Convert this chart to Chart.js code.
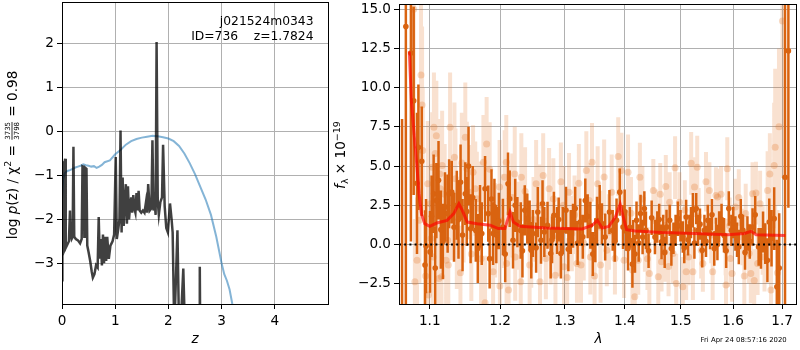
<!DOCTYPE html>
<html><head><meta charset="utf-8">
<script src="https://cdn.jsdelivr.net/npm/chart.js@4.4.0/dist/chart.umd.min.js"></script>
<style>html,body{margin:0;padding:0;background:#fff;width:800px;height:350px;overflow:hidden}canvas{position:absolute;top:0}</style>
</head><body>
<canvas id="c1" width="340" height="350" style="left:0px"></canvas>
<canvas id="c2" width="470" height="350" style="left:330px"></canvas>
<script>
const FONT = "'DejaVu Sans', sans-serif";
Chart.defaults.font.family = FONT;
Chart.defaults.font.size = 13.6;
Chart.defaults.color = '#000';

// ---------- left panel: log p(z) ----------
const zTicks = [0, 1, 2, 3, 4];
const logTicks = [-3, -2, -1, 0, 1, 2];
const zGrid = [0.000,0.005,0.010,0.020,0.025,0.030,0.040,0.050,0.060,0.070,0.090,0.110,0.130,0.150,0.160,0.180,0.200,0.215,0.230,0.260,0.300,0.340,0.370,0.385,0.410,0.420,0.430,0.460,0.475,0.500,0.530,0.560,0.580,0.610,0.640,0.670,0.690,0.710,0.730,0.750,0.770,0.790,0.810,0.830,0.850,0.880,0.910,0.950,0.980,1.010,1.030,1.060,1.080,1.100,1.120,1.140,1.160,1.180,1.200,1.220,1.240,1.260,1.280,1.300,1.320,1.340,1.360,1.380,1.400,1.420,1.440,1.460,1.490,1.520,1.550,1.580,1.600,1.620,1.650,1.680,1.700,1.720,1.740,1.760,1.778,1.800,1.820,1.850,1.880,1.900,1.930,1.960,1.990,2.030,2.060,2.080,2.110,2.130,2.170,2.200,2.240,2.280,2.310,2.400,2.580,2.590,2.600,2.700];
const logPz = [-3.39,-2.9,-0.70,-0.72,-0.68,-2.75,-2.7,-0.70,-0.62,-2.65,-2.60,-2.55,-2.50,-1.80,-2.35,-2.45,-2.40,-0.35,-2.40,-2.45,-2.48,-2.55,-2.45,-0.80,-0.82,-2.4,-0.82,-0.85,-2.6,-2.75,-2.95,-3.20,-3.33,-3.25,-3.05,-3.1,-1.95,-2.9,-2.45,-3.05,-2.35,-3.0,-2.4,-2.95,-2.4,-2.9,-2.6,-2.5,-2.35,-0.58,-2.45,-2.2,-2.0,0.02,-2.3,-1.05,-2.15,-1.6,-1.2,-2.1,-1.25,-2.0,-1.7,-1.5,-1.85,-1.45,-1.75,-1.85,-1.4,-1.8,-1.35,-1.8,-1.85,-1.8,-1.85,-1.6,-1.85,-1.2,-1.8,-1.75,-0.2,-1.8,-1.6,-1.9,2.04,-1.6,-1.9,-1.6,-1.5,-0.3,-1.7,-2.2,-2.3,-1.64,-2.0,-2.3,-4.5,-3.8,-2.25,-4.5,-4.2,-3.12,-4.5,-5,-5,-3.08,-5,-5];
const zSmooth = [0,0.02,0.05,0.1,0.15,0.2,0.25,0.3,0.35,0.4,0.45,0.5,0.55,0.6,0.65,0.7,0.75,0.8,0.9,1.0,1.1,1.2,1.3,1.4,1.5,1.6,1.7,1.8,1.9,2.0,2.1,2.2,2.3,2.4,2.5,2.6,2.7,2.8,2.9,3.0,3.05,3.1,3.15,3.2,3.25];
const logSmooth = [-1.56,-1.1,-0.95,-0.9,-0.88,-0.85,-0.82,-0.8,-0.78,-0.75,-0.77,-0.78,-0.8,-0.79,-0.83,-0.8,-0.76,-0.7,-0.66,-0.52,-0.42,-0.3,-0.22,-0.17,-0.14,-0.12,-0.1,-0.11,-0.13,-0.16,-0.22,-0.33,-0.5,-0.72,-0.97,-1.26,-1.55,-1.9,-2.4,-3.0,-3.25,-3.4,-3.6,-3.92,-4.2];

// ---------- right panel: spectrum ----------
const lamTicks = [1.1, 1.2, 1.3, 1.4, 1.5, 1.6, 1.7];
const fTicks = [-2.5, 0, 2.5, 5, 7.5, 10, 12.5, 15];
const lamDark = [1.063,1.068,1.0747,1.0784,1.0828,1.0847,1.0892,1.0936,1.095,1.1004,1.1053,1.109,1.1152,1.1209,1.1246,1.1266,1.1303,1.1374,1.1398,1.1427,1.1494,1.154,1.1644,1.1673,1.173,1.1778,1.1825,1.1872,1.1896,1.1943,1.2041,1.2117,1.2142,1.2192,1.2258,1.2309,1.237,1.2409,1.247,1.2495,1.2571,1.2621,1.2673,1.2723,1.2773,1.2824,1.2874,1.29,1.2935,1.3017,1.3094,1.3166,1.3248,1.3331,1.3414,1.3497,1.3525,1.3608,1.3662,1.3735,1.379,1.3856,1.3911,1.3967,1.4023,1.4054,1.413,1.4143,1.4202,1.4273,1.4309,1.4368,1.447,1.4529,1.4571,1.4648,1.4679,1.4738,1.4796,1.4827,1.4904,1.4946,1.5038,1.51,1.5162,1.5226,1.5289,1.5321,1.5402,1.5445,1.5509,1.5553,1.5634,1.5666,1.5728,1.5823,1.5917,1.5968,1.6047,1.6115,1.6198,1.6288,1.6391,1.6514,1.6562,1.665,1.6733,1.6835,1.6891,1.7062,1.7133,
  1.1025,1.1075,1.112,1.118,1.1335,1.1455,1.1515,1.157,1.160,1.1705,1.1845,1.1915,1.198,1.2075,1.2225,1.2335,1.2445,1.2545,1.2645,1.2795,1.2965,1.3055,1.313,1.3205,1.329,1.337,1.3455,1.357,1.3825,1.3995,1.4085,1.4175,1.424,1.434,1.4415,1.4605,1.4705,1.4865,1.4995,1.5065,1.5135,1.519,1.5255,1.536,1.5475,1.559,1.5695,1.5775,1.5865,1.6005,1.608,1.6155,1.624,1.6335,1.6445,1.6605,1.6695,1.678,1.694];
const fDark = [-4.5,13.9,12.2,9.16,3.9,6.2,5.3,-1.31,-0.1,-0.47,3.24,2.8,0.95,2.4,1.97,3.24,3.34,2.5,1.6,3.97,3.24,5.0,0.9,-0.25,0.7,3.55,1.97,2.9,0.7,0.6,1.12,3.87,2.92,0.27,1.43,0.9,2.18,1.65,-0.36,0.7,2.07,0.27,0.8,1.23,-0.57,1.86,0.9,1.59,-0.57,2.18,0.8,2.29,1.43,2.81,1.23,0.27,1.54,1.33,0.48,2.07,0.9,1.54,3.34,1.12,0.9,-0.25,-1.25,0.27,1.54,1.97,0.48,0.9,1.71,0.48,1.12,0.17,0.9,1.12,1.54,-0.25,0.9,1.65,0.48,1.75,0.9,2.18,2.29,0.9,-0.36,0.9,1.54,0.7,-0.25,0.7,1.12,0.59,2.29,0.9,0.7,-0.15,0.9,0.7,1.12,-0.15,-0.25,0.06,1.43,1.65,-2.69,4.29,12.34,
  1.8,-1.5,4.1,0.2,1.1,0.6,2.1,1.0,3.0,1.8,-0.9,2.4,1.5,-0.6,2.5,-0.4,1.2,-0.2,2.6,0.3,0.9,-0.3,1.2,0.1,0.5,1.8,-0.6,2.4,0.2,2.1,1.1,-0.6,0.1,2.3,-0.4,1.6,-0.5,0.4,1.2,-0.2,0.3,1.4,0.1,1.3,0.2,1.9,0.0,1.6,-0.4,1.4,0.3,1.8,-0.5,0.2,1.9,0.8,-1.0,0.4,-1.5];
const eDark = [12.5,18,12,6,4.5,4,3.5,3.5,3,2.6,2.5,2.4,2.5,2.2,2.5,2.2,2.0,2.2,2.5,2.4,2.0,2.5,2.0,2.2,2.0,2.1,1.8,1.9,2.0,1.8,1.8,2.0,1.8,1.8,1.6,1.8,1.6,1.6,1.8,1.5,1.6,1.5,1.6,1.5,1.6,1.5,1.5,1.4,1.6,1.5,1.4,1.4,1.5,1.4,1.5,1.4,1.5,1.3,1.5,1.4,1.3,1.4,1.5,1.4,1.3,1.4,1.5,1.3,1.2,1.2,1.1,1.2,1.1,1.1,1.0,1.1,1.0,1.1,1.0,1.1,1.0,1.1,1.0,1.1,1.0,1.1,1.0,1.0,1.1,1.0,1.0,1.0,1.1,1.0,1.0,1.1,1.1,1.0,1.1,1.1,1.0,1.1,1.2,1.2,1.3,1.3,1.5,2.0,3.0,11,10,
  2.6,2.6,2.5,2.4,2.2,2.3,2.2,2.2,2.0,2.0,1.9,1.8,1.8,1.8,1.7,1.7,1.6,1.6,1.5,1.5,1.5,1.4,1.4,1.4,1.4,1.4,1.4,1.4,1.3,1.4,1.3,1.2,1.2,1.1,1.1,1.0,1.0,1.0,1.0,1.0,1.0,1.0,1.0,1.0,1.0,1.0,1.0,1.0,1.1,1.0,1.1,1.1,1.1,1.1,1.2,1.3,1.4,1.8,3.5];
const lamLight = [1.0784,1.08,1.0828,1.086,1.0882,1.0896,1.0973,1.0982,1.1018,1.1033,1.1045,1.1057,1.109,1.1124,1.1138,1.1145,1.1161,1.117,1.1246,1.1255,1.128,1.1341,1.1374,1.1469,1.1494,1.1516,1.155,1.1636,1.1659,1.1697,1.1754,1.1778,1.1801,1.1896,1.1991,1.1996,1.2067,1.2091,1.2095,1.2142,1.2218,1.2225,1.2309,1.2318,1.2445,1.247,1.2545,1.2597,1.2605,1.2697,1.2748,1.2773,1.2848,1.29,1.2976,1.2985,1.3066,1.3111,1.3194,1.326,1.3348,1.3414,1.3442,1.3536,1.3579,1.3585,1.369,1.3773,1.3828,1.3884,1.3939,1.4054,1.413,1.4171,1.4232,1.4261,1.435,1.4429,1.45,1.4589,1.4648,1.4707,1.4725,1.4796,1.4857,1.4916,1.4975,1.5038,1.51,1.5194,1.5226,1.5257,1.5308,1.5383,1.5415,1.554,1.5603,1.5666,1.5698,1.5855,1.5862,1.5887,1.5949,1.5981,1.6047,1.6185,1.6253,1.6321,1.6356,1.6391,1.646,1.6494,1.6597,1.6699,1.6768,1.6835,1.6856,1.7008,
  1.0905,1.0945,1.1005,1.1075,1.1205,1.1225,1.131,1.1355,1.1425,1.1445,1.158,1.1605,1.172,1.1845,1.1925,1.2025,1.2125,1.218,1.2275,1.2375,1.2505,1.2655,1.2815,1.2935,1.3035,1.3155,1.3225,1.3305,1.3395,1.3485,1.3645,1.3725,1.3985,1.4105,1.4305,1.4395,1.4545,1.4625,1.4775,1.4895,1.5075,1.5145,1.5335,1.5475,1.5575,1.5765,1.5935,1.6115,1.6225,1.6425,1.6545,1.6635,1.6745,1.6905,1.6935];
const fLight = [15.0,-2.37,-1.0,1.54,10.8,8.9,3.87,-3.22,0.38,4.93,-0.79,7.47,6.94,-2.16,4.5,3.56,-2.06,5.03,0.27,-1.31,7.47,5.56,0.17,1.86,6.83,4.83,3.34,3.56,2.92,2.29,5.25,-3.71,6.41,-1.74,3.66,-2.65,4.29,5.25,-1.21,1.97,4.5,-0.79,-2.37,4.29,-1.31,-0.15,3.87,2.5,-2.37,-0.89,3.56,0.06,-1.95,0.48,2.5,-1.42,3.34,0.7,-1.21,-1.31,4.72,-0.79,5.25,3.87,1.12,-1.31,-0.36,3.34,-0.89,5.61,4.72,4.61,-1.63,-3.33,-1.0,4.29,0.27,-1.84,3.45,-2.06,-1.1,-0.47,3.7,2.7,-0.57,-2.48,2.7,-2.69,-1.74,5.18,-1.74,3.66,4.93,-0.36,-1.21,3.45,-1.74,3.13,3.03,-0.15,-2.58,4.83,-0.89,-1.84,2.39,0.48,1.97,-0.57,-1.84,3.24,3.28,-1.21,0.27,3.45,-2.9,5.03,6.2,14.24,
  6.0,-2.0,2.6,5.8,3.2,-1.0,2.0,4.2,-1.8,5.2,-0.6,4.6,-0.9,4.8,0.9,1.5,-2.9,3.0,1.2,3.4,1.6,4.4,2.9,4.0,-2.1,1.9,3.9,0.1,2.8,-2.0,4.3,0.8,-1.0,2.0,2.9,-0.9,1.5,3.2,-1.4,4.9,2.2,-0.8,1.8,4.0,0.6,3.2,1.2,3.0,-2.0,-2.3,2.6,-0.8,4.5,-1.8,7.5];
const eLight = [8,4,4,4,5,5,4,3.5,3.5,3.5,3.5,3.5,3.5,3,3.5,3,3,3.5,3,3,3.5,3.5,3,3,3.5,3,3,3,3,3,3,3,3,3,3,3,3,3,3,2.8,3,2.8,2.8,2.8,2.8,2.6,2.8,2.6,2.8,2.6,2.6,2.6,2.6,2.5,2.5,2.5,2.5,2.4,2.5,2.4,2.5,2.4,2.5,2.4,2.3,2.4,2.3,2.4,2.3,2.5,2.4,2.4,2.3,2.3,2.2,2.2,2.0,2.0,2.0,2.0,1.9,1.9,2.0,1.9,1.9,1.9,1.9,1.9,1.8,2.0,1.8,1.9,2.0,1.8,1.8,1.8,1.8,1.8,1.8,1.8,1.8,2.0,1.8,1.8,1.8,1.8,1.9,1.9,1.9,2.0,2.0,2.0,2.2,2.5,2.8,4,5,10,
  4,4,3.5,3.5,3.2,3,3,3.2,3,3.2,3,3,3,3,3,3,2.8,2.8,2.8,2.8,2.7,2.7,2.6,2.5,2.5,2.5,2.5,2.4,2.4,2.4,2.4,2.4,2.4,2.3,2.1,2.0,2.0,2.0,1.9,2.0,1.9,1.8,1.8,1.9,1.8,1.8,1.8,1.8,1.9,2.0,2.1,2.2,2.6,4,5];
const lamModel = [1.0726,1.0753,1.0797,1.0828,1.0855,1.0888,1.0932,1.1,1.1095,1.1238,1.1331,1.1403,1.1451,1.1522,1.1664,1.1853,1.1972,1.2071,1.2147,1.2197,1.2298,1.2703,1.3281,1.3446,1.353,1.3613,1.3724,1.3835,1.3918,1.3972,1.4029,1.4179,1.4654,1.5264,1.5894,1.6226,1.6362,1.6464,1.7069];
const fModel = [12.3,9.16,6.62,4.93,3.24,1.97,1.33,1.16,1.37,1.54,1.97,2.6,2.18,1.43,1.33,1.23,1.02,1.02,2.07,1.43,1.16,1.05,0.99,1.23,1.54,1.05,1.16,1.75,2.56,1.75,0.95,0.86,0.76,0.7,0.63,0.7,0.84,0.63,0.57];
const lamRange = [1.059, 1.7295];

// ---------- helpers ----------
function fmtInt(v){ return v < 0 ? '\u2212' + Math.abs(v) : String(v); }
function fmt1(v){ const s = Math.abs(v).toFixed(1); return v < 0 ? '\u2212' + s : s; }
function pts(xs, ys){ return xs.map((x, i) => ({x: x, y: ys[i]})); }
function errSegs(xs, ys, es){
  const out = [];
  xs.forEach((x, i) => { out.push({x: x, y: ys[i] - es[i]}, {x: x, y: ys[i] + es[i]}, {x: x, y: null}); });
  return out;
}
function setFont(ctx, size, italic){ ctx.font = (italic ? 'italic ' : '') + size + 'px ' + FONT; }
function measureRun(ctx, r){
  if (r.frac){ setFont(ctx, r.size, false); return Math.max(ctx.measureText(r.frac[0]).width, ctx.measureText(r.frac[1]).width) + 2; }
  setFont(ctx, r.size, r.italic); return ctx.measureText(r.t).width;
}
function drawRich(ctx, runs, x, y, rot){
  ctx.save(); ctx.translate(x, y); if (rot) ctx.rotate(-Math.PI / 2);
  let W = 0; runs.forEach(r => { r.w = measureRun(ctx, r); W += r.w; });
  let cx = -W / 2;
  ctx.fillStyle = '#000'; ctx.textBaseline = 'alphabetic';
  for (const r of runs){
    if (r.frac){
      setFont(ctx, r.size, false); ctx.textAlign = 'center';
      ctx.fillText(r.frac[0], cx + r.w / 2, -6.3);
      ctx.fillText(r.frac[1], cx + r.w / 2, 2.7);
      ctx.fillRect(cx + 1, -4.9, r.w - 2, 0.8);
    } else {
      setFont(ctx, r.size, r.italic); ctx.textAlign = 'left';
      ctx.fillText(r.t, cx, r.dy || 0);
    }
    cx += r.w;
  }
  ctx.restore();
}
const framePlugin = { id: 'frame', afterDraw(chart){
  const {ctx, chartArea: a} = chart;
  ctx.save(); ctx.strokeStyle = '#000'; ctx.lineWidth = 1;
  ctx.strokeRect(a.left + 0.5, a.top + 0.5, a.right - a.left, a.bottom - a.top);
  ctx.restore();
}};
function fitY(w){ return s => { s.width = w; s.paddingTop = 0; s.paddingBottom = 0; }; }
function fitX(h){ return s => { s.height = h; s.paddingLeft = 0; s.paddingRight = 0; }; }
const gridOpts = { color: '#b0b0b0', lineWidth: 1, tickColor: '#000', tickLength: 5 };

// ---------- left chart ----------
const leftText = { id: 'leftText', afterDraw(chart){
  const ctx = chart.ctx;
  ctx.save(); ctx.fillStyle = '#000'; ctx.textAlign = 'right'; ctx.textBaseline = 'alphabetic';
  setFont(ctx, 12.3, false);
  ctx.fillText('j021524m0343', 313.5, 24.5);
  ctx.fillText('ID=736    z=1.7824', 313.5, 40);
  ctx.textAlign = 'center'; setFont(ctx, 13.6, true);
  ctx.fillText('z', 195, 343);
  ctx.restore();
  drawRich(ctx, [
    {t: 'log ', size: 13.6}, {t: 'p', size: 13.6, italic: true}, {t: '(z) / \u03c7', size: 13.6},
    {t: '2', size: 9.5, dy: -5.5}, {t: ' = ', size: 13.6}, {frac: ['3735', '3798'], size: 7},
    {t: ' = 0.98', size: 13.6}
  ], 16.5, 155, true);
}};
new Chart(document.getElementById('c1'), {
  type: 'line',
  data: { datasets: [
    { data: pts(zGrid, logPz), borderColor: 'rgba(0,0,0,0.75)', borderWidth: 2.5, pointRadius: 0, tension: 0, clip: 0 },
    { data: pts(zSmooth, logSmooth), borderColor: 'rgba(31,119,180,0.55)', borderWidth: 2, pointRadius: 0, tension: 0, clip: 0 }
  ]},
  options: {
    responsive: false, animation: false, devicePixelRatio: 1,
    layout: { padding: { top: 2, right: 12, left: 0, bottom: 0 } },
    plugins: { legend: { display: false }, tooltip: { enabled: false } },
    scales: {
      x: { type: 'linear', min: 0, max: 5, afterBuildTicks: s => { s.ticks = zTicks.map(v => ({value: v})); },
           ticks: { callback: v => fmtInt(v), maxRotation: 0, autoSkip: false, padding: 4 },
           grid: gridOpts, border: { display: false }, afterFit: fitX(46) },
      y: { type: 'linear', min: -3.93, max: 2.95, afterBuildTicks: s => { s.ticks = logTicks.map(v => ({value: v})); },
           ticks: { callback: v => fmtInt(v), autoSkip: false, padding: 3 },
           grid: gridOpts, border: { display: false }, afterFit: fitY(62) }
    }
  },
  plugins: [framePlugin, leftText]
});

// ---------- right chart ----------
const DARK = 'rgb(217,99,16)';
const LIGHT_BAR = 'rgba(228,120,40,0.22)';
const LIGHT_PT = 'rgba(228,120,40,0.28)';
const rightText = { id: 'rightText', afterDraw(chart){
  const ctx = chart.ctx;
  ctx.save(); ctx.fillStyle = '#000'; ctx.textAlign = 'center'; ctx.textBaseline = 'alphabetic';
  setFont(ctx, 13.6, true);
  ctx.fillText('\u03bb', 268.5, 343);
  ctx.textAlign = 'right'; setFont(ctx, 6.9, false);
  ctx.fillText('Fri Apr 24 08:57:16 2020', 456.7, 342);
  ctx.restore();
  drawRich(ctx, [
    {t: 'f', size: 13.6, italic: true}, {t: '\u03bb', size: 9.5, dy: 3}, {t: ' \u00d7 10', size: 13.6},
    {t: '\u221219', size: 9.5, dy: -5.5}
  ], 15, 155, true);
}};
new Chart(document.getElementById('c2'), {
  type: 'line',
  data: { datasets: [
    { data: pts(lamRange, [0, 0]), borderColor: '#000', borderWidth: 2, borderDash: [2, 3.2], pointRadius: 0, clip: 0 },
    { data: pts(lamModel, fModel), borderColor: 'rgba(255,0,0,0.65)', borderWidth: 3, pointRadius: 0, tension: 0, clip: 0 },
    { data: pts(lamDark, fDark), showLine: false, pointRadius: 2.8, pointBackgroundColor: DARK, pointBorderWidth: 0, clip: 0 },
    { data: errSegs(lamDark, fDark, eDark), borderColor: DARK, borderWidth: 2.5, pointRadius: 0, spanGaps: false, borderCapStyle: 'butt', clip: 0 },
    { data: pts(lamLight, fLight), showLine: false, pointRadius: 3.5, pointBackgroundColor: LIGHT_PT, pointBorderWidth: 0, clip: 0 },
    { data: errSegs(lamLight, fLight, eLight), borderColor: LIGHT_BAR, borderWidth: 4, pointRadius: 0, spanGaps: false, borderCapStyle: 'butt', clip: 0 }
  ]},
  options: {
    responsive: false, animation: false, devicePixelRatio: 1,
    layout: { padding: { top: 2, right: 1, left: 0, bottom: 0 } },
    plugins: { legend: { display: false }, tooltip: { enabled: false } },
    scales: {
      x: { type: 'logarithmic', min: lamRange[0], max: lamRange[1],
           afterBuildTicks: s => { s.ticks = lamTicks.map(v => ({value: v})); },
           ticks: { callback: v => fmt1(v), maxRotation: 0, minRotation: 0, autoSkip: false, padding: 4 },
           grid: gridOpts, border: { display: false }, afterFit: fitX(46) },
      y: { type: 'linear', min: -3.79, max: 15.33, afterBuildTicks: s => { s.ticks = fTicks.map(v => ({value: v})); },
           ticks: { callback: v => fmt1(v), autoSkip: false, padding: 3 },
           grid: gridOpts, border: { display: false }, afterFit: fitY(69) }
    }
  },
  plugins: [framePlugin, rightText]
});
</script>
</body></html>
